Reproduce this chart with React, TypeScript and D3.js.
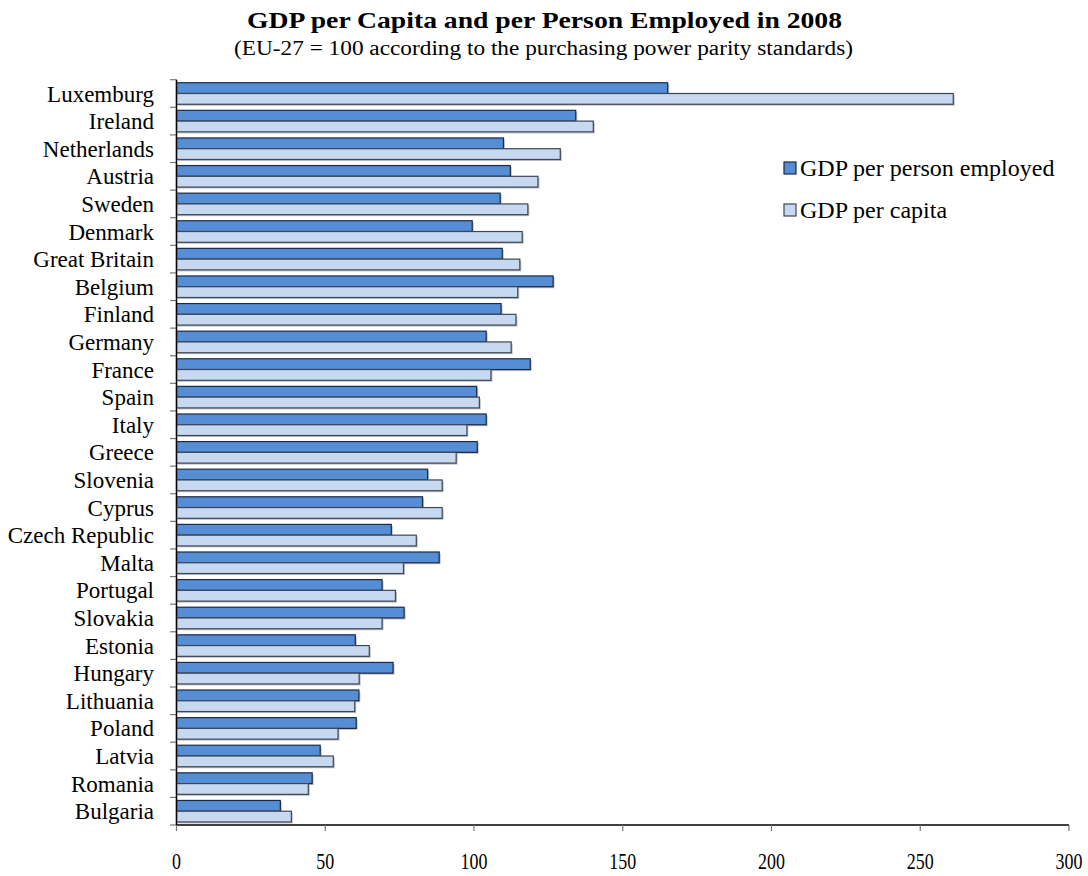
import React from "react";
import * as d3 from "d3";

const countries = [
  "Luxemburg", "Ireland", "Netherlands", "Austria", "Sweden", "Denmark",
  "Great Britain", "Belgium", "Finland", "Germany", "France", "Spain", "Italy",
  "Greece", "Slovenia", "Cyprus", "Czech Republic", "Malta", "Portugal",
  "Slovakia", "Estonia", "Hungary", "Lithuania", "Poland", "Latvia", "Romania",
  "Bulgaria",
];
const perEmployed = [
  165.1, 134.2, 109.9, 112.2, 108.8, 99.4, 109.5, 126.6, 109.1, 104.1, 118.9,
  100.9, 104.1, 101.1, 84.4, 82.7, 72.2, 88.3, 69.1, 76.5, 60.1, 72.8, 61.3,
  60.4, 48.3, 45.6, 34.9,
];
const perCapita = [
  261.1, 140.1, 129.0, 121.5, 118.1, 116.2, 115.4, 114.7, 114.1, 112.5, 105.7,
  101.8, 97.6, 94.0, 89.3, 89.3, 80.6, 76.3, 73.6, 69.1, 64.8, 61.4, 59.9,
  54.3, 52.7, 44.3, 38.6,
];
const xTicks = [0, 50, 100, 150, 200, 250, 300];
const seriesKeys = ["emp", "cap"];
const seriesNames = ["GDP per person employed", "GDP per capita"];
const title = "GDP per Capita and per Person Employed in 2008";
const subtitle = "(EU-27 = 100 according to the purchasing power parity standards)";

const fills: Record<string, string> = { emp: "#558ED5", cap: "#C6D9F1" };
const strokes: Record<string, string> = { emp: "#1b2a45", cap: "#3e4657" };
const FONT = "'Liberation Serif', 'DejaVu Serif', serif";

export default function App() {
  const W = 1088, H = 876;
  const left = 176.5, right = 1069, top = 79.7, bottom = 825;
  const x = d3.scaleLinear().domain([0, 300]).range([left, right]);
  const y = d3.scaleBand<string>().domain(countries).range([top, bottom]).paddingInner(0.22).paddingOuter(0.11);
  const inner = d3.scaleBand<string>().domain(seriesKeys).range([0, y.bandwidth()]);
  const step = y.step();
  const boundaries = d3.range(countries.length + 1).map((i) => top + i * step);
  const data = countries.map((c, i) => ({ c, emp: perEmployed[i], cap: perCapita[i] }));

  return (
    <svg width={W} height={H} style={{ position: "absolute", left: 0, top: 0, background: "#fff" }}>
      <text x={544.5} y={28} textAnchor="middle" fontFamily={FONT} fontWeight="bold" fontSize={24} textLength={595} lengthAdjust="spacingAndGlyphs">{title}</text>
      <text x={543.5} y={55} textAnchor="middle" fontFamily={FONT} fontSize={20} textLength={619} lengthAdjust="spacingAndGlyphs">{subtitle}</text>

      {data.map((d) => (
        <g key={d.c}>
          {seriesKeys.map((k) => {
            const v = (d as any)[k] as number;
            const yy = (y(d.c) as number) + (inner(k) as number);
            const h = inner.bandwidth();
            return (
              <g key={k}>
                <rect x={x(0) + 1.5} y={yy + 1.5} width={x(v) - x(0)} height={h} fill="#8c8c8c" opacity={0.55} />
                <rect x={x(0)} y={yy} width={x(v) - x(0)} height={h} fill={fills[k]} stroke={strokes[k]} strokeWidth={1.2} />
              </g>
            );
          })}
          <text x={154} y={(y(d.c) as number) + y.bandwidth() / 2} dy="0.35em" textAnchor="end" fontFamily={FONT} fontSize={23}>{d.c}</text>
        </g>
      ))}

      {/* y axis */}
      {boundaries.map((b, i) => (
        <line key={i} x1={170} x2={left} y1={b} y2={b} stroke="#777" strokeWidth={1.2} />
      ))}
      <line x1={left} x2={left} y1={top} y2={bottom} stroke="#000" strokeWidth={1.5} />

      {/* x axis */}
      <line x1={left} x2={right} y1={bottom} y2={bottom} stroke="#000" strokeWidth={1.5} />
      {xTicks.map((t) => (
        <g key={t}>
          <line x1={x(t)} x2={x(t)} y1={bottom} y2={bottom + 6} stroke="#777" strokeWidth={1.2} />
          <text transform={`translate(${x(t)},${869}) scale(0.78,1)`} textAnchor="middle" fontFamily={FONT} fontSize={23}>{t}</text>
        </g>
      ))}

      {/* legend */}
      {seriesKeys.map((k, i) => (
        <g key={k} transform={`translate(784,${162 + i * 42})`}>
          <rect x={0} y={0} width={12} height={12} fill={fills[k]} stroke={strokes[k]} strokeWidth={1.2} />
          <text x={16} y={6} dy="0.35em" fontFamily={FONT} fontSize={24}>{seriesNames[i]}</text>
        </g>
      ))}
    </svg>
  );
}
